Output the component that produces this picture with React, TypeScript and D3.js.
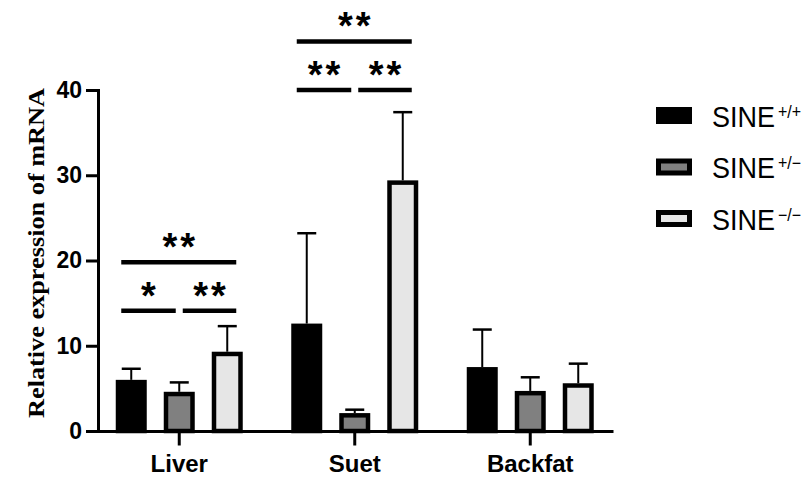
import { useRef, useEffect } from "react";
import * as d3 from "d3";

const tissues = ["Liver", "Suet", "Backfat"];
const genotypes = ["+/+", "+/\u2212", "\u2212/\u2212"];
const meanWT = [6.0, 12.6, 7.5];
const meanHet = [4.6, 2.1, 4.7];
const meanKO = [9.3, 29.4, 5.6];
const sdWT = [1.3, 10.6, 4.4];
const sdHet = [1.1, 0.4, 1.6];
const sdKO = [3.0, 8.0, 2.3];
const yTicks = [0, 10, 20, 30, 40];

// significance brackets
const sigTissue = ["Liver", "Liver", "Liver", "Suet", "Suet", "Suet"];
const sigFrom = [0, 0, 1, 0, 0, 1];
const sigTo = [2, 1, 2, 2, 1, 2];
const sigLevel = [19.8, 14.1, 14.1, 45.7, 40.0, 40.0];
const sigLabel = ["**", "*", "**", "**", "**", "**"];

const fills = ["#000000", "#808080", "#e6e6e6"];
const sans = "'Liberation Sans', Arial, sans-serif";

const App = () => {
  const svgRef = useRef();

  useEffect(() => {
    const svg = d3.select(svgRef.current);
    svg.selectAll("*").remove();

    const means = [meanWT, meanHet, meanKO];
    const sds = [sdWT, sdHet, sdKO];

    const y = d3.scaleLinear().domain([0, 40]).range([431, 90]);
    const x0 = d3.scaleBand().domain(tissues).range([91.5, 618]);
    const groupW = 144;
    const x1 = d3
      .scaleBand()
      .domain(genotypes)
      .range([(x0.bandwidth() - groupW) / 2, (x0.bandwidth() + groupW) / 2])
      .paddingInner(17 / 48)
      .paddingOuter(17 / 96);

    const barCenter = (t, g) => x0(t) + x1(genotypes[g]) + x1.bandwidth() / 2;

    const rows = [];
    tissues.forEach((t, i) => {
      genotypes.forEach((g, j) => {
        rows.push({ t, g, j, mean: means[j][i], sd: sds[j][i] });
      });
    });

    const sw = 4.5;
    // error bars (upper only)
    const err = svg.append("g").attr("stroke", "#000");
    err
      .selectAll("line.stem")
      .data(rows)
      .enter()
      .append("line")
      .attr("x1", (d) => barCenter(d.t, d.j))
      .attr("x2", (d) => barCenter(d.t, d.j))
      .attr("y1", (d) => y(d.mean))
      .attr("y2", (d) => y(d.mean + d.sd))
      .attr("stroke-width", 2);
    err
      .selectAll("line.cap")
      .data(rows)
      .enter()
      .append("line")
      .attr("x1", (d) => barCenter(d.t, d.j) - 9.5)
      .attr("x2", (d) => barCenter(d.t, d.j) + 9.5)
      .attr("y1", (d) => y(d.mean + d.sd))
      .attr("y2", (d) => y(d.mean + d.sd))
      .attr("stroke-width", 2.5);

    // bars
    svg
      .append("g")
      .selectAll("rect")
      .data(rows)
      .enter()
      .append("rect")
      .attr("x", (d) => x0(d.t) + x1(d.g) + sw / 2)
      .attr("width", x1.bandwidth() - sw)
      .attr("y", (d) => y(d.mean) + sw / 2)
      .attr("height", (d) => Math.max(0, y(0) - y(d.mean) - sw / 2))
      .attr("fill", (d) => fills[d.j])
      .attr("stroke", "#000")
      .attr("stroke-width", sw);

    // y axis
    const yAxis = svg
      .append("g")
      .attr("transform", "translate(98,0)")
      .call(
        d3.axisLeft(y).tickValues(yTicks).tickSize(12).tickSizeOuter(0).tickPadding(4)
      );
    yAxis.select(".domain").attr("stroke-width", 3).attr("stroke-linecap", "square");
    yAxis.selectAll(".tick line").attr("stroke-width", 3);
    yAxis
      .selectAll(".tick text")
      .attr("font-family", sans)
      .attr("font-weight", "bold")
      .attr("font-size", 23)
      .attr("fill", "#000");

    // x axis
    svg
      .append("line")
      .attr("x1", 98)
      .attr("x2", 612)
      .attr("y1", y(0) + 0.5)
      .attr("y2", y(0) + 0.5)
      .attr("stroke", "#000")
      .attr("stroke-width", 3)
      .attr("stroke-linecap", "square");
    const xAxis = svg
      .append("g")
      .attr("transform", `translate(0,${y(0) + 0.5})`)
      .call(d3.axisBottom(x0).tickSize(14).tickSizeOuter(0).tickPadding(9));
    xAxis.select(".domain").remove();
    xAxis.selectAll(".tick line").attr("stroke-width", 3);
    xAxis
      .selectAll(".tick text")
      .attr("font-family", sans)
      .attr("font-weight", "bold")
      .attr("font-size", 24)
      .attr("fill", "#000");

    // y label
    svg
      .append("text")
      .attr("transform", "translate(44,253) rotate(-90)")
      .attr("text-anchor", "middle")
      .attr("font-family", "'Liberation Serif', 'Times New Roman', serif")
      .attr("font-weight", "bold")
      .attr("font-size", 24)
      .attr("textLength", 330)
      .attr("lengthAdjust", "spacingAndGlyphs")
      .text("Relative expression of mRNA");

    // significance
    const sig = svg.append("g");
    sigTissue.forEach((t, k) => {
      const xa = sigFrom[k] === 0 ? barCenter(t, 0) - 10 : barCenter(t, 1) + 3.5;
      const xb = sigTo[k] === 2 ? barCenter(t, 2) + 9 : barCenter(t, 1) - 3.5;
      const ly = y(sigLevel[k]);
      sig
        .append("line")
        .attr("x1", xa)
        .attr("x2", xb)
        .attr("y1", ly)
        .attr("y2", ly)
        .attr("stroke", "#000")
        .attr("stroke-width", 4.5);
      sig
        .append("text")
        .attr("x", (xa + xb) / 2 + 1.5)
        .attr("y", ly - 2)
        .attr("text-anchor", "middle")
        .attr("font-family", sans)
        .attr("font-weight", "bold")
        .attr("font-size", 38)
        .attr("letter-spacing", 3)
        .text(sigLabel[k]);
    });

    // legend
    const legend = svg.append("g").attr("transform", "translate(656,107)");
    genotypes.forEach((g, j) => {
      const row = legend.append("g").attr("transform", `translate(0,${j * 51.5})`);
      row
        .append("rect")
        .attr("x", j === 0 ? 0 : 2.5)
        .attr("y", j === 0 ? 0 : 2.5)
        .attr("width", j === 0 ? 36 : 31)
        .attr("height", j === 0 ? 17 : 12)
        .attr("fill", fills[j])
        .attr("stroke", j === 0 ? "none" : "#000")
        .attr("stroke-width", 5);
      const txt = row
        .append("text")
        .attr("transform", "translate(56,19.5) scale(1,1.1)")
        .attr("font-family", sans)
        .attr("font-size", 27)
        .attr("fill", "#000");
      txt.append("tspan").text("SINE");
      txt
        .append("tspan")
        .attr("dx", 3)
        .attr("dy", -8)
        .attr("font-size", 16)
        .text(g);
    });
  }, []);

  return (
    <svg
      ref={svgRef}
      width={808}
      height={477}
      style={{ position: "absolute", left: 0, top: 0, background: "#fff" }}
    ></svg>
  );
};

export default App;
